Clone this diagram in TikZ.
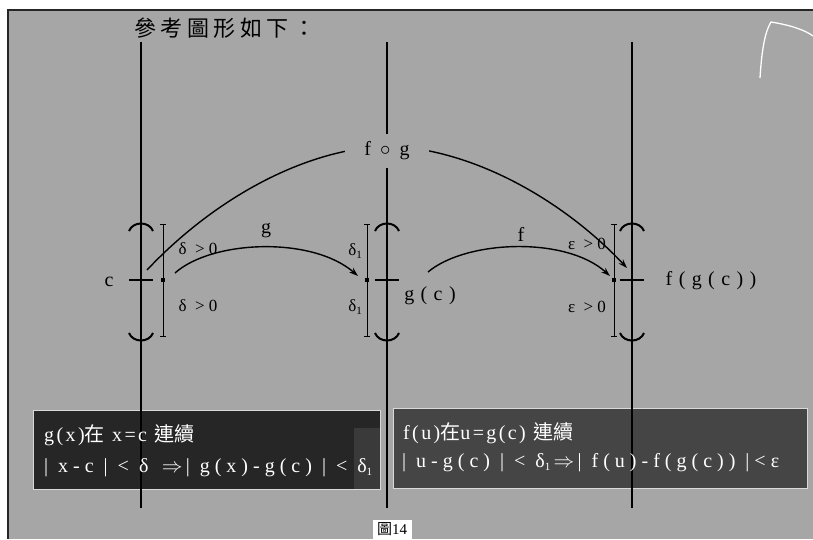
\documentclass[tikz,border=0pt]{standalone}
\usepackage{fontspec}
\setmainfont{Liberation Serif}
\newfontfamily\cjk{Noto Sans CJK TC}
\newfontfamily\lsA{Liberation Serif}[LetterSpace=25]
\newfontfamily\lsB{Liberation Serif}[LetterSpace=32]
\newfontfamily\lsC{Liberation Serif}[LetterSpace=12]
\newcommand\subone{\raisebox{-3pt}{\fontsize{11}{11}\selectfont 1}}
\usetikzlibrary{arrows.meta}
\definecolor{bg}{HTML}{A6A6A6}
\definecolor{boxL}{HTML}{262626}
\definecolor{boxR}{HTML}{454545}
\definecolor{boxLL}{HTML}{3A3A3A}
\tikzset{
  axis/.style={line width=1.6pt, black},
  brk/.style={line width=2pt, black},
  tickmark/.style={line width=1.2pt, black},
  ivl/.style={line width=0.6pt, black},
  arr/.style={line width=1.4pt, black, -{Stealth[length=9pt,width=6pt]}},
  lbl/.style={inner sep=0pt, font=\lsA\fontsize{17}{19}\selectfont},
  biglbl/.style={inner sep=0pt, font=\lsB\fontsize{20}{22}\selectfont},
  darkbox/.style={draw=white!85!black, line width=1pt, inner sep=0pt},
  boxtxt/.style={inner sep=0pt, anchor=west, text=white, font=\lsA\fontsize{20}{22}\selectfont},
}
\begin{document}
\begin{tikzpicture}[x=1pt,y=-1pt]
\useasboundingbox (0,0) rectangle (813,539);
\fill[white] (0,0) rectangle (813,539);
\fill[bg] (8,10) rectangle (813,539);
\draw[line width=1.5pt, black!85] (8,539) -- (8,10) -- (813,10);
% white arc top right
\draw[white, line width=1.3pt] (760,78) .. controls (762,45) and (766,30) .. (771,22) .. controls (790,25) and (805,30) .. (813,36);

% title
\node[inner sep=0pt, font=\cjk\fontsize{22}{24}\selectfont] (title) at (225,28) {參\hspace{4.5pt}考\hspace{4.5pt}圖\hspace{4.5pt}形\hspace{4.5pt}如\hspace{4.5pt}下\hspace{4.5pt}：};

% boxes
\node[darkbox, fill=boxL, minimum width=347pt, minimum height=79pt] (lbox) at (206.5,449.5) {};
\fill[boxLL] (354,428) rectangle (379.5,488.5);
\node[darkbox, fill=boxR, minimum width=414pt, minimum height=80pt] (rbox) at (600,448) {};

% axes
\foreach \ax/\ix/\n in {141/163/L, 387/367/M, 632/614/R} {
  \coordinate (top\n) at (\ax,42);
  \coordinate (bot\n) at (\ax,508);
  \draw[axis] (top\n) -- (bot\n);
  \draw[brk] ({\ax-12},231) .. controls ({\ax-8},221) and ({\ax+8},221) .. ({\ax+12},231);
  \draw[brk] ({\ax-12},333) .. controls ({\ax-8},343) and ({\ax+8},343) .. ({\ax+12},333);
  \draw[tickmark] ({\ax-12},280) -- ({\ax+12},280);
  \draw[ivl] (\ix,224) -- (\ix,336);
  \draw[ivl] ({\ix-3},224) -- ({\ix+3},224);
  \draw[ivl] ({\ix-3},336) -- ({\ix+3},336);
  \fill ({\ix-2},278) rectangle ({\ix+2},282);
  \coordinate (p\n) at (\ix,280);
}

% labels on axes
\node[biglbl] (c) at (109,282) {c};
\node[biglbl] (gc) at (430,296) {g(c)};
\node[biglbl] (fgc) at (711,281) {f(g(c))};
\node[lbl] (d1) at (198,249) {δ >0};
\node[lbl] (d2) at (198,306) {δ >0};
\node[lbl] (d3) at (355,251) {δ\subone};
\node[lbl] (d4) at (355,307) {δ\subone};
\node[lbl] (e1) at (587,244) {ε >0};
\node[lbl] (e2) at (587,307) {ε >0};

% arrows
\coordinate (gs) at (175,273);
\coordinate (ge) at (358,276);
\draw[arr] (gs) .. controls (212,240) and (312,236) .. (ge);
\node[biglbl] (glbl) at (266,231) {g};
\coordinate (fs) at (428,272);
\coordinate (fe) at (610,276);
\draw[arr] (fs) .. controls (466,240) and (566,236) .. (fe);
\node[biglbl] (flbl) at (521,234) {f};
\coordinate (cs) at (147,270);
\coordinate (cm) at (388,146);
\coordinate (ce) at (627,268);
\draw[arr] (cs) .. controls (210,203) and (300,149) .. (cm) .. controls (476,149) and (566,203) .. (ce);
\node[biglbl, fill=bg, minimum width=84pt, minimum height=34pt] (fog) at (387,151) {f\hspace{9pt}$\circ$\hspace{9pt}g};

% box texts
\node[boxtxt, font=\lsC\fontsize{20}{22}\selectfont] (l1) at (44,435) {g(x){\cjk 在} x=c {\cjk 連續}};
\node[boxtxt] (l2) at (44,468) {| x-c | < δ \,$\Rightarrow$\,| g(x)-g(c) | < δ\subone};
\node[boxtxt, font=\lsC\fontsize{20}{22}\selectfont] (r1) at (403,433) {f(u){\cjk 在}u=g(c) {\cjk 連續}};
\node[boxtxt] (r2) at (402,463) {| u-g(c) | < δ\subone\,$\Rightarrow$\,| f(u)-f(g(c)) |<ε};

% figure caption
\node[fill=white, inner sep=1pt, font=\fontsize{15}{16}\selectfont, minimum width=39pt, minimum height=19pt] (cap) at (392,529) {{\cjk 圖}14};
\end{tikzpicture}
\end{document}
